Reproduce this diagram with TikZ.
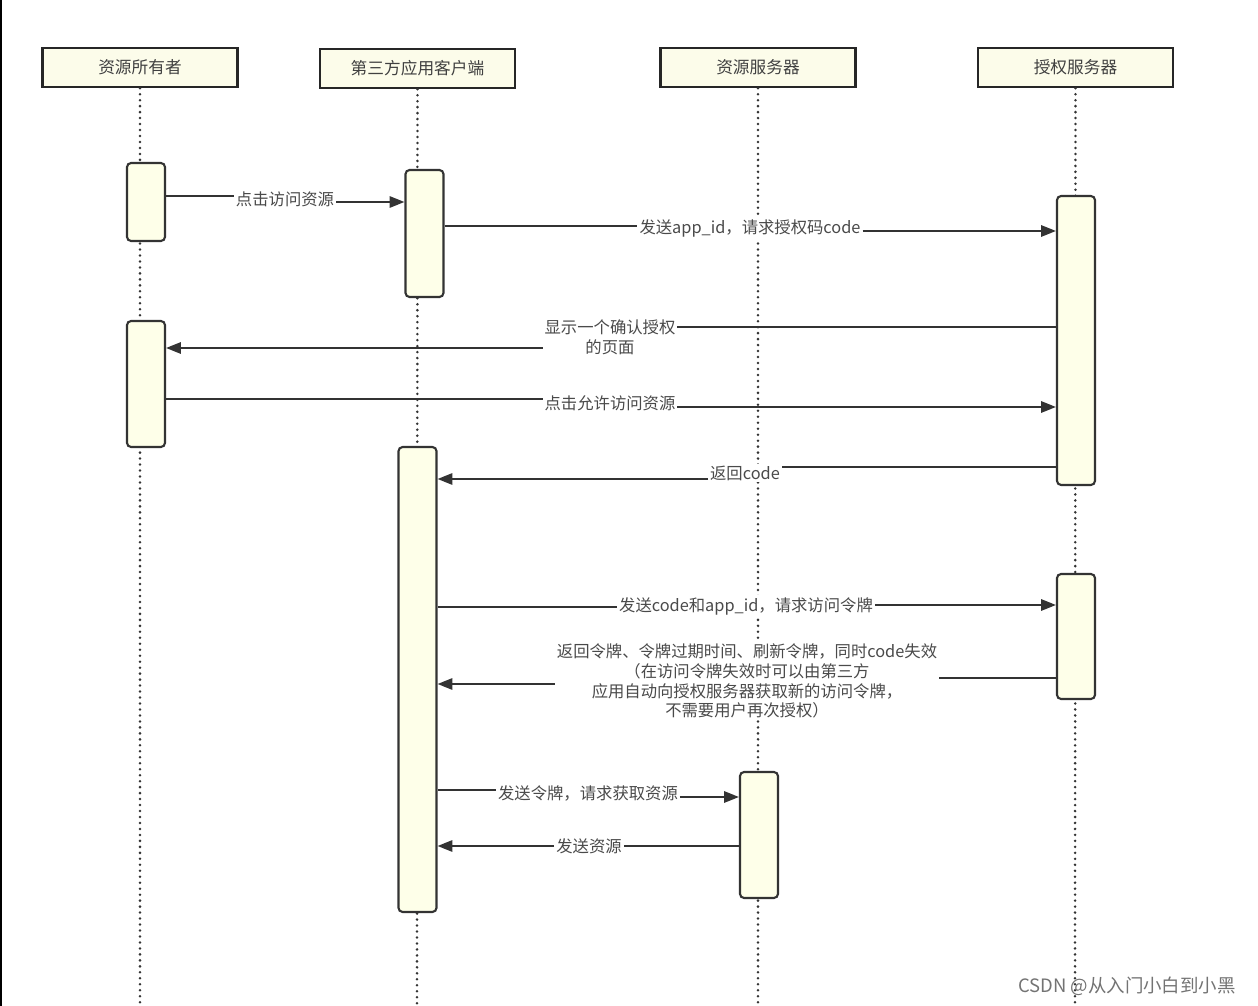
\documentclass[tikz,border=0pt]{standalone}
\usepackage{fontspec}
\setmainfont{Noto Sans CJK SC}
\usetikzlibrary{arrows.meta,calc}
\definecolor{boxfill}{HTML}{FCFCEA}
\definecolor{actfill}{HTML}{FEFFE9}
\definecolor{lncol}{HTML}{333333}
\definecolor{txtcol}{HTML}{4A4A4A}
\tikzset{
  hdr/.style={draw=black!85, line width=1.4pt, fill=boxfill, minimum width=3.9cm, minimum height=0.78cm, font=\fontsize{9.5pt}{11pt}\selectfont, text=black!75, inner sep=0pt},
  act/.style={draw=lncol, line width=1.2pt, fill=actfill, rounded corners=2.3pt, minimum width=0.76cm, inner sep=0pt},
  life/.style={draw=lncol, line width=1.6pt, line cap=round, dash pattern=on 0pt off 3.4pt},
  ln/.style={draw=lncol, line width=1.1pt},
  arr/.style={-{Triangle[length=8.5pt,width=6.5pt]}},
  lbl/.style={fill=white, text=txtcol, inner xsep=1pt, inner ysep=1pt, font=\fontsize{9.3pt}{11.3pt}\selectfont, align=center},
}
\begin{document}
\begin{tikzpicture}[x=0.02cm, y=-0.02cm]
\useasboundingbox (0,0) rectangle (1258,1006);
\draw[line width=1.2pt, black] (1,0) -- (1,1006);
% headers
\node[hdr] (h1) at (140,67.5) {资源所有者};
\node[hdr] (h2) at (417.5,68.5) {第三方应用客户端};
\node[hdr] (h3) at (758,67.5) {资源服务器};
\node[hdr] (h4) at (1075.5,67.5) {授权服务器};
% lifeline ends
\coordinate (e1) at (140,1006);
\coordinate (e2) at (417,1006);
\coordinate (e3) at (758,1006);
\coordinate (e4) at (1075,1006);
\draw[life] (h1.south) -- (e1);
\draw[life] (h2.south) -- (e2);
\draw[life] (h3.south) -- (e3);
\draw[life] (h4.south) -- (e4);
% activations
\node[act, minimum height=1.56cm] (A1) at (146,202) {};
\node[act, minimum height=2.52cm] (A2) at (146,384) {};
\node[act, minimum height=2.54cm] (C1) at (424.5,233.5) {};
\node[act, minimum height=9.3cm] (C2) at (417.5,679.5) {};
\node[act, minimum height=5.78cm] (S1) at (1076,340.5) {};
\node[act, minimum height=2.5cm] (S2) at (1076,636.5) {};
\node[act, minimum height=2.52cm] (R1) at (759,835) {};
% labels
\node[lbl] (l1) at (285,199) {点击访问资源};
\node[lbl] (l2) at (750,228) {发送app\_id，请求授权码code};
\node[lbl] (l3) at (610,337) {显示一个确认授权\\的页面};
\node[lbl] (l4) at (610,403) {点击允许访问资源};
\node[lbl] (l5) at (745,473) {返回code};
\node[lbl] (l6) at (746,606) {发送code和app\_id，请求访问令牌};
\node[lbl] (l7) at (747,681) {返回令牌、令牌过期时间、刷新令牌，同时code失效\\（在访问令牌失效时可以由第三方\\应用自动向授权服务器获取新的访问令牌，\\不需要用户再次授权）};
\node[lbl] (l8) at (588,793) {发送令牌，请求获取资源};
\node[lbl] (l9) at (589,846) {发送资源};
% connector bend points
\coordinate (l1a) at ($(l1.west)+(0,-3)$);
\coordinate (l1b) at ($(l1.east)+(0,3)$);
\coordinate (l2a) at ($(l2.west)+(0,-2)$);
\coordinate (l2b) at ($(l2.east)+(0,3)$);
\coordinate (l3a) at ($(l3.east)+(0,-10)$);
\coordinate (l3b) at ($(l3.west)+(0,11)$);
\coordinate (l4a) at ($(l4.west)+(0,-4)$);
\coordinate (l4b) at ($(l4.east)+(0,4)$);
\coordinate (l5a) at ($(l5.east)+(0,-6)$);
\coordinate (l5b) at ($(l5.west)+(0,6)$);
\coordinate (l6a) at ($(l6.west)+(0,1)$);
\coordinate (l6b) at ($(l6.east)+(0,-1)$);
\coordinate (l7a) at ($(l7.east)+(0,-3)$);
\coordinate (l7b) at ($(l7.west)+(0,3)$);
\coordinate (l8a) at ($(l8.west)+(0,-3)$);
\coordinate (l8b) at ($(l8.east)+(0,4)$);
% connectors
\draw[ln] (A1.east |- l1a) -- (l1a);
\draw[ln,arr] (l1b) -- (C1.west |- l1b);
\draw[ln] (C1.east |- l2a) -- (l2a);
\draw[ln,arr] (l2b) -- (S1.west |- l2b);
\draw[ln] (S1.west |- l3a) -- (l3a);
\draw[ln,arr] (l3b) -- (A2.east |- l3b);
\draw[ln] (A2.east |- l4a) -- (l4a);
\draw[ln,arr] (l4b) -- (S1.west |- l4b);
\draw[ln] (S1.west |- l5a) -- (l5a);
\draw[ln,arr] (l5b) -- (C2.east |- l5b);
\draw[ln] (C2.east |- l6a) -- (l6a);
\draw[ln,arr] (l6b) -- (S2.west |- l6b);
\draw[ln] (S2.west |- l7a) -- (l7a);
\draw[ln,arr] (l7b) -- (C2.east |- l7b);
\draw[ln] (C2.east |- l8a) -- (l8a);
\draw[ln,arr] (l8b) -- (R1.west |- l8b);
\draw[ln] (R1.west |- l9.east) -- (l9.east);
\draw[ln,arr] (l9.west) -- (C2.east |- l9.west);
% watermark
\node[text=black!55, font=\fontsize{10.5pt}{12pt}\selectfont, inner sep=0pt] (wm) at (1127,986) {CSDN @从入门小白到小黑};
\end{tikzpicture}
\end{document}
